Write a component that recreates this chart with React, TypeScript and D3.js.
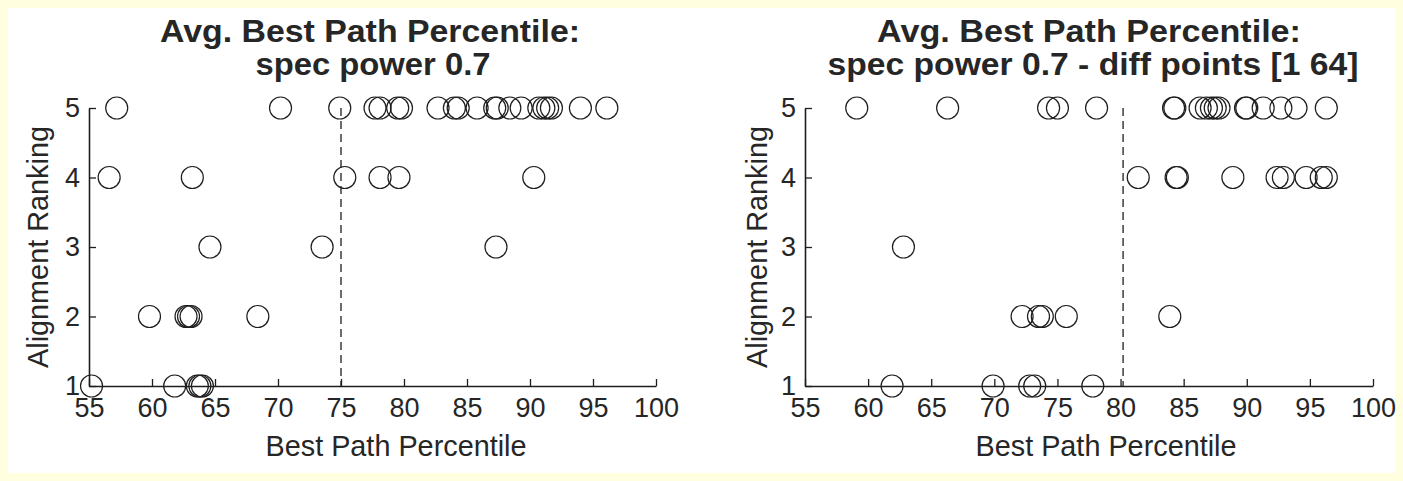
import React, { useEffect, useRef } from "react";
import * as d3 from "d3";

// ---------- data ----------
const X_TICKS = [55, 60, 65, 70, 75, 80, 85, 90, 95, 100];
const Y_TICKS = [1, 2, 3, 4, 5];
const X_DOMAIN = [55, 100];
const Y_DOMAIN = [1, 5];

const TITLE_LINE1 = "Avg. Best Path Percentile:";
const LEFT_TITLE_LINE2 = "spec power 0.7";
const RIGHT_TITLE_LINE2 = "spec power 0.7 - diff points [1 64]";
const X_LABEL = "Best Path Percentile";
const Y_LABEL = "Alignment Ranking";

// Left panel: best path percentile per alignment ranking
const LEFT_RANK5 = [57.2, 70.2, 74.9, 77.7, 78.1, 79.5, 79.8, 82.7, 84.0, 84.3, 85.8, 87.2, 87.4, 88.4, 89.3, 90.7, 91.1, 91.4, 91.7, 94.0, 96.1];
const LEFT_RANK4 = [56.6, 63.2, 75.3, 78.1, 79.6, 90.3];
const LEFT_RANK3 = [64.6, 73.5, 87.3];
const LEFT_RANK2 = [59.8, 62.7, 62.9, 63.1, 68.4];
const LEFT_RANK1 = [55.2, 61.8, 63.6, 63.8, 64.0];
const LEFT_THRESHOLD = 75;

// Right panel
const RIGHT_RANK5 = [59.1, 66.3, 74.3, 75.0, 78.1, 84.2, 84.3, 86.3, 86.8, 87.2, 87.5, 87.8, 89.9, 90.0, 91.3, 92.7, 93.9, 96.3];
const RIGHT_RANK4 = [81.4, 84.4, 84.5, 88.9, 92.4, 92.9, 94.7, 95.9, 96.3];
const RIGHT_RANK3 = [62.8];
const RIGHT_RANK2 = [72.2, 73.5, 73.8, 75.7, 83.9];
const RIGHT_RANK1 = [61.9, 69.9, 72.8, 73.2, 77.8];
const RIGHT_THRESHOLD = 80.2;

const toPoints = (rows: number[][]) =>
  rows.flatMap((vals, i) => vals.map((v) => ({ x: v, y: Y_TICKS[i] })));

const LEFT_POINTS = toPoints([LEFT_RANK1, LEFT_RANK2, LEFT_RANK3, LEFT_RANK4, LEFT_RANK5]);
const RIGHT_POINTS = toPoints([RIGHT_RANK1, RIGHT_RANK2, RIGHT_RANK3, RIGHT_RANK4, RIGHT_RANK5]);

// ---------- styles ----------
const FONT = "'Liberation Sans', Arial, Helvetica, sans-serif";
const INK = "#1e1e1e";
const TEXT = "#262626";

type PanelProps = {
  x0: number;
  x1: number;
  points: { x: number; y: number }[];
  threshold: number;
  line2: string;
  line1Len: number;
  line2Len: number;
  line1Cx: number;
  line2Cx: number;
  xLabelCx: number;
  yLabelX: number;
};

const TOP = 108;
const BOTTOM = 386;

function Panel(p: PanelProps) {
  const x = d3.scaleLinear().domain(X_DOMAIN).range([p.x0, p.x1]);
  const y = d3.scaleLinear().domain(Y_DOMAIN).range([BOTTOM, TOP]);
  const xRef = useRef<SVGGElement>(null);
  const yRef = useRef<SVGGElement>(null);

  useEffect(() => {
    const ax = d3
      .axisBottom(x)
      .tickValues(X_TICKS)
      .tickSizeInner(-7)
      .tickSizeOuter(0)
      .tickPadding(12)
      .tickFormat(d3.format("d"));
    const gx = d3.select(xRef.current!).call(ax as any);
    gx.select(".domain").attr("stroke", INK).attr("stroke-width", 1.6);
    gx.selectAll(".tick line").attr("stroke", INK).attr("stroke-width", 1.3);
    gx.selectAll(".tick text")
      .attr("fill", TEXT)
      .attr("font-size", 27)
      .attr("font-family", FONT);

    const ay = d3
      .axisLeft(y)
      .tickValues(Y_TICKS)
      .tickSizeInner(-7)
      .tickSizeOuter(0)
      .tickPadding(9)
      .tickFormat(d3.format("d"));
    const gy = d3.select(yRef.current!).call(ay as any);
    gy.select(".domain").attr("stroke", INK).attr("stroke-width", 1.6);
    gy.selectAll(".tick line").attr("stroke", INK).attr("stroke-width", 1.3);
    gy.selectAll(".tick text")
      .attr("fill", TEXT)
      .attr("font-size", 27)
      .attr("font-family", FONT);
    gx.attr("font-family", null).attr("font-size", null);
    gy.attr("font-family", null).attr("font-size", null);
  });

  const midY = (TOP + BOTTOM) / 2;

  return (
    <g>
      <text
        x={p.line1Cx}
        y={42}
        textAnchor="middle"
        fontFamily={FONT}
        fontWeight="bold"
        fontSize={31}
        fill={TEXT}
        textLength={p.line1Len}
        lengthAdjust="spacingAndGlyphs"
      >
        {TITLE_LINE1}
      </text>
      <text
        x={p.line2Cx}
        y={75}
        textAnchor="middle"
        fontFamily={FONT}
        fontWeight="bold"
        fontSize={31}
        fill={TEXT}
        textLength={p.line2Len}
        lengthAdjust="spacingAndGlyphs"
      >
        {p.line2}
      </text>
      <line
        x1={x(p.threshold)}
        x2={x(p.threshold)}
        y1={y(5)}
        y2={y(1)}
        stroke={INK}
        strokeWidth={1.3}
        strokeDasharray="8,5"
      />
      {p.points.map((d, i) => (
        <circle
          key={i}
          cx={x(d.x)}
          cy={y(d.y)}
          r={11}
          fill="none"
          stroke={INK}
          strokeWidth={1.2}
        />
      ))}
      <g ref={xRef} transform={`translate(0,${BOTTOM})`} />
      <g ref={yRef} transform={`translate(${p.x0},0)`} />
      <text
        x={p.xLabelCx}
        y={456}
        textAnchor="middle"
        fontFamily={FONT}
        fontSize={29}
        fill={TEXT}
        textLength={261}
        lengthAdjust="spacingAndGlyphs"
      >
        {X_LABEL}
      </text>
      <text
        transform={`translate(${p.yLabelX},${midY}) rotate(-90)`}
        textAnchor="middle"
        fontFamily={FONT}
        fontSize={29}
        fill={TEXT}
        textLength={242}
        lengthAdjust="spacingAndGlyphs"
      >
        {Y_LABEL}
      </text>
    </g>
  );
}

export default function App() {
  return (
    <svg
      width={1403}
      height={481}
      style={{ position: "absolute", left: 0, top: 0, display: "block" }}
    >
      <rect x={0} y={0} width={1403} height={481} fill="#ffffe0" />
      <rect x={8} y={8} width={1387} height={465} fill="#ffffff" />
      <Panel
        x0={89}
        x1={656}
        points={LEFT_POINTS}
        threshold={LEFT_THRESHOLD}
        line2={LEFT_TITLE_LINE2}
        line1Len={420}
        line2Len={235}
        line1Cx={370}
        line2Cx={373}
        xLabelCx={396}
        yLabelX={48}
      />
      <Panel
        x0={805}
        x1={1373}
        points={RIGHT_POINTS}
        threshold={RIGHT_THRESHOLD}
        line2={RIGHT_TITLE_LINE2}
        line1Len={424}
        line2Len={531}
        line1Cx={1089}
        line2Cx={1093}
        xLabelCx={1106}
        yLabelX={767}
      />
    </svg>
  );
}
